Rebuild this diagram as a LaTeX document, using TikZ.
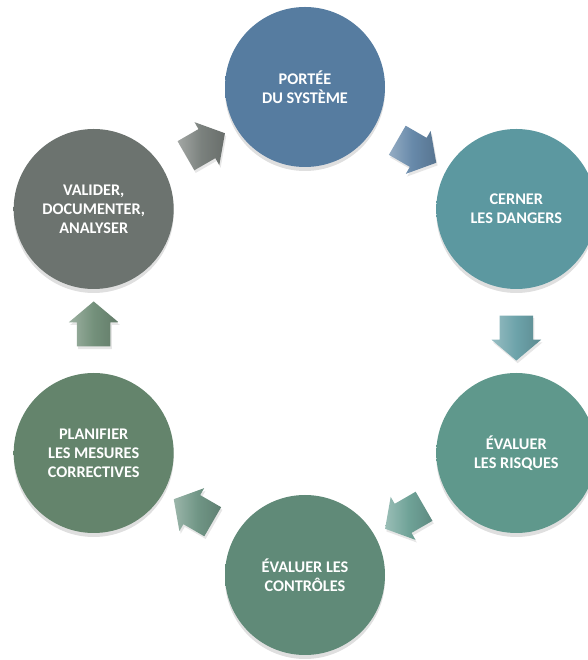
\documentclass[tikz,border=0pt]{standalone}
\usepackage{fontspec}
\setmainfont{Carlito}
\usetikzlibrary{calc, shapes.arrows, shadows}
\definecolor{scopeblue}{HTML}{567CA0}
\definecolor{hazardteal}{HTML}{5C98A0}
\definecolor{riskteal}{HTML}{5F988C}
\definecolor{controlgreen}{HTML}{608A78}
\definecolor{plangreen}{HTML}{64846C}
\definecolor{reviewgrey}{HTML}{6C736F}
\makeatletter
\pgfdeclareradialshading[tikz@radial@inner,tikz@radial@outer]{disc}{\pgfpoint{0bp}{0bp}}{color(0bp)=(tikz@radial@inner); color(38bp)=(tikz@radial@inner); color(50bp)=(tikz@radial@outer)}
\makeatother
\tikzstyle{stepdisc}=[circle, minimum size=120pt, inner sep=0pt, align=center, text=white, font=\bfseries\fontsize{12.2}{14.4}\selectfont, drop shadow={shadow xshift=0pt, shadow yshift=-3pt, opacity=.25}]
\tikzstyle{cyclearrow}=[single arrow, minimum height=33.75pt, inner xsep=0pt, inner ysep=12.4pt, single arrow head extend=6pt, single arrow tip angle=100, drop shadow={shadow xshift=1pt, shadow yshift=-2pt, opacity=.2}]
\tikzset{disc color/.style={inner color=#1, outer color=#1!82!black, shading=disc},
  arrow color/.style={left color=#1!70!white, right color=#1!85!black, middle color=#1}}

\begin{document}
\begin{tikzpicture}[x=0.75pt, y=0.75pt]

\useasboundingbox (0, 0) rectangle (587, 660);

\coordinate (hub) at (305, 329);

\node [stepdisc, disc color=scopeblue] (scope) at ($(hub) + (90:244)$) {PORTÉE\\DU SYSTÈME};
\node [stepdisc, disc color=hazardteal] (hazards) at ($(hub) + (30:244)$) {CERNER\\LES DANGERS};
\node [stepdisc, disc color=riskteal] (risks) at ($(hub) + (-30:244)$) {ÉVALUER\\LES RISQUES};
\node [stepdisc, disc color=controlgreen] (controls) at ($(hub) + (-90:244)$) {ÉVALUER LES\\CONTRÔLES};
\node [stepdisc, disc color=plangreen] (plan) at ($(hub) + (-150:244)$) {PLANIFIER\\LES MESURES\\CORRECTIVES};
\node [stepdisc, disc color=reviewgrey] (review) at ($(hub) + (150:244)$) {VALIDER,\\DOCUMENTER,\\ANALYSER};

\node [cyclearrow, arrow color=scopeblue!90!white, rotate=-30] (sh) at ($(scope)!.5!(hazards)$) {};
\node [cyclearrow, arrow color=hazardteal!90!white, rotate=-90] (hr) at ($(hazards)!.5!(risks)$) {};
\node [cyclearrow, arrow color=riskteal!90!white, rotate=-150] (rc) at ($(risks)!.5!(controls)$) {};
\node [cyclearrow, arrow color=controlgreen!90!white, rotate=150] (cp) at ($(controls)!.5!(plan)$) {};
\node [cyclearrow, arrow color=plangreen!90!white, rotate=90] (pr) at ($(plan)!.5!(review)$) {};
\node [cyclearrow, arrow color=reviewgrey!90!white, rotate=30] (rs) at ($(review)!.5!(scope)$) {};

\end{tikzpicture}
\end{document}
